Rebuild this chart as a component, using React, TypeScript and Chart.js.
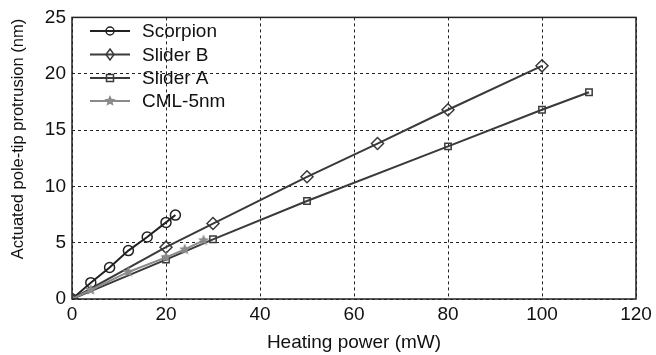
import React, { useEffect, useRef } from "react";
import { Chart, registerables } from "chart.js";
Chart.register(...registerables);

const scorpionX = [0, 4, 8, 12, 16, 20, 22];
const scorpionY = [0, 1.45, 2.8, 4.3, 5.5, 6.8, 7.45];
const sliderBX = [0, 20, 30, 50, 65, 80, 100];
const sliderBY = [0, 4.6, 6.7, 10.85, 13.8, 16.8, 20.7];
const sliderAX = [0, 20, 30, 50, 80, 100, 110];
const sliderAY = [0, 3.5, 5.3, 8.7, 13.55, 16.8, 18.35];
const cmlX = [0, 4, 12, 20, 24, 28];
const cmlY = [0, 0.8, 2.4, 3.7, 4.4, 5.2];
const seriesNames = ["Scorpion", "Slider B", "Slider A", "CML-5nm"];
const xTicks = [0, 20, 40, 60, 80, 100, 120];
const yTicks = [0, 5, 10, 15, 20, 25];
const xTitle = "Heating power (mW)";
const yTitle = "Actuated pole-tip protrusion (nm)";

const FONT = "'Liberation Sans', Arial, sans-serif";

function starCanvas(color: string, r: number) {
  const c = document.createElement("canvas");
  const s = Math.ceil(r * 2 + 2);
  c.width = s;
  c.height = s;
  const ctx = c.getContext("2d")!;
  ctx.fillStyle = color;
  ctx.beginPath();
  for (let i = 0; i < 10; i++) {
    const rad = i % 2 === 0 ? r : r * 0.45;
    const a = -Math.PI / 2 + (i * Math.PI) / 5;
    const x = s / 2 + rad * Math.cos(a);
    const y = s / 2 + rad * Math.sin(a);
    if (i === 0) ctx.moveTo(x, y);
    else ctx.lineTo(x, y);
  }
  ctx.closePath();
  ctx.fill();
  return c;
}

export default function App() {
  const ref = useRef<HTMLCanvasElement>(null);
  useEffect(() => {
    const star = starCanvas("#8a8a8a", 6);
    const toPts = (xs: number[], ys: number[]) => xs.map((x, i) => ({ x, y: ys[i] }));
    const colors = ["#222222", "#3a3a3a", "#3a3a3a", "#8a8a8a"];
    const styles: any[] = ["circle", "rectRot", "rect", star];
    const radii = [5, 6, 4.5, 6];
    const datas = [
      toPts(scorpionX, scorpionY),
      toPts(sliderBX, sliderBY),
      toPts(sliderAX, sliderAY),
      toPts(cmlX, cmlY),
    ];
    const order = [3, 2, 1, 0];
    const datasets = order.map((i) => ({
      label: seriesNames[i],
      data: datas[i],
      borderColor: colors[i],
      backgroundColor: "rgba(0,0,0,0)",
      pointBorderColor: colors[i],
      pointBackgroundColor: "rgba(0,0,0,0)",
      pointStyle: styles[i],
      pointRadius: radii[i],
      pointBorderWidth: 1.5,
      borderWidth: 2,
      showLine: true,
    }));

    const framePlugin = {
      id: "frame",
      afterDraw(chart: any) {
        const { ctx, chartArea: a } = chart;
        ctx.save();
        ctx.strokeStyle = "#222";
        ctx.lineWidth = 1.5;
        ctx.setLineDash([]);
        ctx.strokeRect(a.left, a.top, a.right - a.left, a.bottom - a.top);
        // y title
        ctx.save();
        ctx.translate(18, 139);
        ctx.rotate(-Math.PI / 2);
        ctx.font = `16.5px ${FONT}`;
        ctx.fillStyle = "#111";
        ctx.textAlign = "center";
        ctx.textBaseline = "middle";
        ctx.fillText(yTitle, 0, 0);
        ctx.restore();
        // legend
        const lx0 = a.left + 18;
        const lx1 = a.left + 58;
        const tx = a.left + 70;
        const rows = [31, 54.5, 78, 101];
        ctx.font = `19px ${FONT}`;
        ctx.textBaseline = "middle";
        ctx.textAlign = "left";
        for (let i = 0; i < 4; i++) {
          const y = rows[i];
          ctx.strokeStyle = colors[i];
          ctx.lineWidth = 2;
          ctx.beginPath();
          ctx.moveTo(lx0, y);
          ctx.lineTo(lx1, y);
          ctx.stroke();
          const cx = (lx0 + lx1) / 2;
          ctx.lineWidth = 1.5;
          ctx.beginPath();
          if (i === 0) {
            ctx.arc(cx, y, 4, 0, Math.PI * 2);
            ctx.stroke();
          } else if (i === 1) {
            ctx.moveTo(cx, y - 5.5);
            ctx.lineTo(cx + 4, y);
            ctx.lineTo(cx, y + 5.5);
            ctx.lineTo(cx - 4, y);
            ctx.closePath();
            ctx.stroke();
          } else if (i === 2) {
            ctx.strokeRect(cx - 3.5, y - 3.5, 7, 7);
          } else {
            ctx.drawImage(star, cx - star.width / 2, y - star.height / 2);
          }
          ctx.fillStyle = "#111";
          ctx.fillText(seriesNames[i], tx, y + 1);
        }
        ctx.restore();
      },
    };

    const chart = new Chart(ref.current!, {
      type: "scatter",
      data: { datasets },
      plugins: [framePlugin],
      options: {
        animation: false,
        responsive: false,
        maintainAspectRatio: false,
        layout: { padding: { top: 17, right: 20, left: 0, bottom: 0 } },
        plugins: { legend: { display: false }, tooltip: { enabled: false } },
        scales: {
          x: {
            type: "linear",
            min: 0,
            max: 120,
            afterFit(s: any) {
              s.height = 56;
            },
            afterBuildTicks(s: any) {
              s.ticks = xTicks.map((v) => ({ value: v }));
            },
            grid: { color: "#222", lineWidth: 1, drawTicks: false },
            border: { display: false, dash: [3, 3] },
            ticks: { color: "#111", font: { family: FONT, size: 19 }, padding: 4 },
            title: {
              display: true,
              text: xTitle,
              color: "#111",
              font: { family: FONT, size: 19 },
              padding: { top: 0, bottom: 1 },
            },
          },
          y: {
            type: "linear",
            min: 0,
            max: 25,
            afterFit(s: any) {
              s.width = 72;
            },
            afterBuildTicks(s: any) {
              s.ticks = yTicks.map((v) => ({ value: v }));
            },
            grid: { color: "#222", lineWidth: 1, drawTicks: false },
            border: { display: false, dash: [3, 3] },
            ticks: { color: "#111", font: { family: FONT, size: 19 }, padding: 6 },
            title: { display: false },
          },
        },
      },
    });
    return () => chart.destroy();
  }, []);
  return (
    <div style={{ position: "fixed", left: 0, top: 0, width: 656, height: 355, background: "#fff" }}>
      <canvas ref={ref} width={656} height={355} style={{ width: 656, height: 355 }} />
    </div>
  );
}
